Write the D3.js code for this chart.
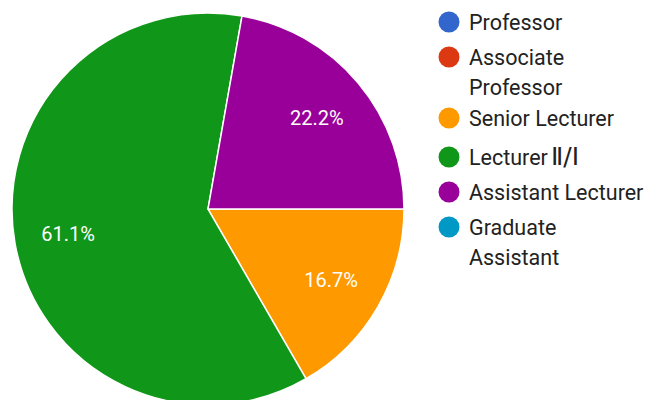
<!DOCTYPE html>
<html>
<head>
<meta charset="utf-8">
<script src="https://cdn.jsdelivr.net/npm/d3@7"></script>
<style>
  body { margin: 0; background: #fff; }
  text { font-family: Roboto, "Noto Sans", sans-serif; }
</style>
</head>
<body>
<svg id="piechart"></svg>
<script>
// data (18 answers: 3 / 11 / 4)
var categories = ["Professor", "Associate Professor", "Senior Lecturer",
                  "Lecturer\u2161/\u2160", "Assistant Lecturer", "Graduate Assistant"]
var counts = [0, 0, 3, 11, 4, 0]
var colors = ["#3366cc", "#dc3912", "#ff9900", "#109618", "#990099", "#0099c6"]
// legend lines (wrapped like the original)
var legendLines = [["Professor"], ["Associate", "Professor"], ["Senior Lecturer"],
                   ["Lecturer"], ["Assistant Lecturer"], ["Graduate", "Assistant"]]
var numeralSuffix = "\u2161/\u2160"

var screen = {width: 651, height: 400}
var center = {x: 208, y: 209}
var radius = 196

var svg = d3.select("#piechart")
    .attr("width", screen.width)
    .attr("height", screen.height)

var rows = categories.map(function(c, i) {
    return {name: c, value: counts[i], color: colors[i]}
})
var total = d3.sum(counts)

var pie = d3.pie()
    .sort(null)
    .value(function(d) { return d.value })
    .startAngle(Math.PI / 2)
    .endAngle(Math.PI / 2 + 2 * Math.PI)

var arc = d3.arc().innerRadius(0).outerRadius(radius)
var labelArc = d3.arc().innerRadius(radius * 0.725).outerRadius(radius * 0.725)

var target = svg.append("g")
    .attr("transform", "translate(" + center.x + "," + center.y + ")")

var slices = pie(rows).filter(function(d) { return d.data.value > 0 })

target.selectAll("path")
    .data(slices)
    .enter()
    .append("path")
    .attr("d", arc)
    .attr("fill", function(d) { return d.data.color })
    .attr("stroke", "#fff")
    .attr("stroke-width", 1.5)

target.selectAll("text")
    .data(slices)
    .enter()
    .append("text")
    .attr("transform", function(d) { return "translate(" + labelArc.centroid(d) + ")" })
    .attr("text-anchor", "middle")
    .attr("dy", "0.36em")
    .attr("fill", "#fff")
    .style("font-size", "20px")
    .text(function(d) { return (d.data.value / total * 100).toFixed(1) + "%" })

// legend
var legendY = [22, 57, 118, 157, 192, 227]
var legend = svg.append("g").attr("class", "legend")
var entries = legend.selectAll("g")
    .data(rows)
    .enter()
    .append("g")
    .attr("transform", function(d, i) { return "translate(449," + legendY[i] + ")" })

entries.append("circle")
    .attr("r", 10.5)
    .attr("fill", function(d) { return d.color })

entries.each(function(d, i) {
    var g = d3.select(this)
    legendLines[i].forEach(function(line, j) {
        var t = g.append("text")
            .attr("x", 20)
            .attr("y", j * 30)
            .attr("dy", "0.36em")
            .attr("fill", "#222")
            .style("font-size", "21.5px")
            .text(line)
        if (i == 3) {
            t.append("tspan")
                .attr("dx", 3)
                .style("font-family", "'DejaVu Sans'")
                .style("font-size", "25px")
                .text(numeralSuffix)
        }
    })
})
</script>
</body>
</html>
